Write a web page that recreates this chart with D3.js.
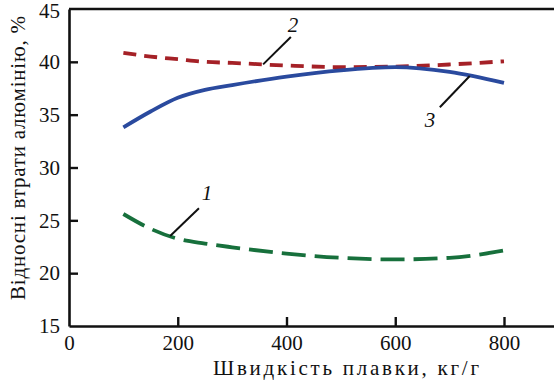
<!DOCTYPE html>
<html>
<head>
<meta charset="utf-8">
<script src="https://cdn.jsdelivr.net/npm/d3@7"></script>
<style>
  html, body { margin: 0; padding: 0; background: #fff; }
  svg { display: block; }
</style>
</head>
<body>
<svg id="chart" width="554" height="382"></svg>
<script>
// Melting speed (kg/h) at which each curve is sampled
const speed = [100, 150, 200, 250, 300, 400, 500, 600, 700, 800];
// Relative aluminium losses, %
const loss1 = [25.6, 24.2, 23.25, 22.8, 22.45, 21.85, 21.45, 21.3, 21.45, 22.15];
const loss2 = [40.85, 40.5, 40.25, 40.0, 39.9, 39.65, 39.5, 39.55, 39.75, 40.05];
const loss3 = [33.8, 35.3, 36.6, 37.35, 37.8, 38.6, 39.2, 39.5, 39.05, 38.0];
const seriesNames = ["1", "2", "3"];
const xTicks = [0, 200, 400, 600, 800];
const yTicks = [15, 20, 25, 30, 35, 40, 45];
// Curve number callouts: speed where the leader touches the curve,
// leader end and label position in data units
const callouts = [
  { on: 186, ex: 239, ey: 26.15, lx: 254, ly: 26.9 },
  { on: 357, ex: 408, ey: 42.35, lx: 412, ly: 42.8 },
  { on: 737, ex: 682, ey: 35.7, lx: 664, ly: 33.85 }
];

const font = "Liberation Serif, Liberation Sans, sans-serif";
const svg = d3.select("#chart").attr("font-family", font);
const mLeft = 69, mTop = 9, mBottom = 326;

const x = d3.scaleLinear().domain([0, 900]).range([mLeft, mLeft + 900 * 0.54375]);
const y = d3.scaleLinear().domain([15, 45]).range([mBottom, mTop]);

// Axes with inward ticks
const xAxis = svg.append("g")
  .attr("transform", `translate(0,${mBottom})`)
  .call(d3.axisBottom(x).tickValues(xTicks).tickSizeInner(-9).tickSizeOuter(0).tickPadding(9).tickFormat(d3.format("d")));
const yAxis = svg.append("g")
  .attr("transform", `translate(${mLeft},0)`)
  .call(d3.axisLeft(y).tickValues(yTicks).tickSizeInner(-9).tickSizeOuter(0).tickPadding(9));

[xAxis, yAxis].forEach(g => {
  g.attr("font-family", font).attr("font-size", 21);
  g.select(".domain").attr("stroke", "#111").attr("stroke-width", 2.6);
  g.selectAll(".tick line").attr("stroke", "#111").attr("stroke-width", 2.4);
  g.selectAll(".tick text").attr("fill", "#111");
});
xAxis.selectAll(".tick").filter(d => d === 0).select("line").remove();
yAxis.selectAll(".tick").filter(d => d === 15 || d === 45).select("line").remove();
yAxis.selectAll(".tick").filter(d => d === 45).select("text").attr("dy", "0.42em");

// Top frame line
svg.append("line")
  .attr("x1", mLeft).attr("x2", x(900)).attr("y1", y(45)).attr("y2", y(45))
  .attr("stroke", "#111").attr("stroke-width", 2.6);

// Axis titles
svg.append("text")
  .attr("x", 346).attr("y", 375)
  .attr("text-anchor", "middle")
  .attr("font-size", 21).attr("fill", "#111")
  .attr("textLength", 266).attr("lengthAdjust", "spacing")
  .text("Швидкість плавки, кг/г");
svg.append("text")
  .attr("transform", `translate(25,158) rotate(-90)`)
  .attr("text-anchor", "middle")
  .attr("font-size", 21).attr("fill", "#111")
  .attr("textLength", 284).attr("lengthAdjust", "spacing")
  .text("Відносні втрати алюмінію, %");

// Curves
const line = d3.line().curve(d3.curveMonotoneX).x(d => x(d[0])).y(d => y(d[1]));
const series = [
  { vals: loss1, color: "#17703c", dash: "24,9" },
  { vals: loss2, color: "#a52127", dash: "13,8" },
  { vals: loss3, color: "#2a4a9e", dash: null }
];
series.forEach(s => {
  const path = svg.append("path")
    .datum(speed.map((v, i) => [v, s.vals[i]]))
    .attr("d", line)
    .attr("fill", "none")
    .attr("stroke", s.color)
    .attr("stroke-width", 3.8);
  if (s.dash) path.attr("stroke-dasharray", s.dash);
});

// Number labels with leader lines
function valueAt(vals, v) {
  const i = d3.bisectRight(speed, v) - 1;
  const t = (v - speed[i]) / (speed[i + 1] - speed[i]);
  return vals[i] + t * (vals[i + 1] - vals[i]);
}
series.forEach((s, k) => {
  const c = callouts[k];
  svg.append("line")
    .attr("x1", x(c.on)).attr("y1", y(valueAt(s.vals, c.on)))
    .attr("x2", x(c.ex)).attr("y2", y(c.ey))
    .attr("stroke", "#111").attr("stroke-width", 2);
  svg.append("text")
    .attr("x", x(c.lx)).attr("y", y(c.ly))
    .attr("text-anchor", "middle")
    .attr("font-size", 21)
    .attr("font-style", "italic").attr("fill", "#111")
    .text(seriesNames[k]);
});
</script>
</body>
</html>
